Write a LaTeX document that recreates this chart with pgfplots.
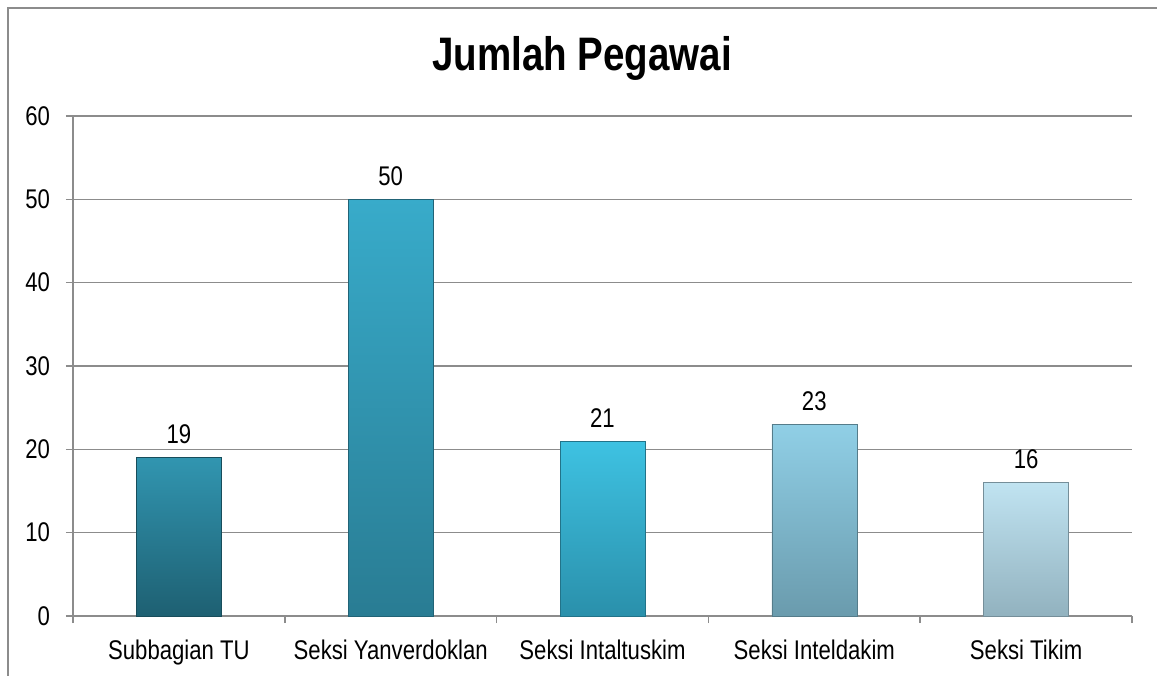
\documentclass[border=0pt]{standalone}
\usepackage{pgfplots}
\pgfplotsset{compat=1.18}
\usepackage{fontspec}
\setmainfont{Liberation Sans}[FakeStretch=0.82]
\definecolor{gridc}{HTML}{8C8C8C}
\definecolor{aT}{HTML}{3195B0}\definecolor{aB}{HTML}{1E6072}
\definecolor{bT}{HTML}{38ABCA}\definecolor{bB}{HTML}{297C93}
\definecolor{cT}{HTML}{3EC2E2}\definecolor{cB}{HTML}{2A90AB}
\definecolor{dT}{HTML}{90CFE6}\definecolor{dB}{HTML}{6A9BAD}
\definecolor{eT}{HTML}{C0E3F1}\definecolor{eB}{HTML}{92B2BF}
\begin{document}
\begin{tikzpicture}
\path[use as bounding box] (0,0) rectangle (578.5pt,337.5pt);
\draw[gridc, line width=0.8pt] (4pt,-2pt) -- (4pt,333.5pt) -- (581pt,333.5pt);
\node[anchor=base, font=\bfseries\fontsize{23.5}{28}\selectfont] at (291pt,302pt) {Jumlah Pegawai};
\begin{axis}[
  at={(36.5pt,29.5pt)}, anchor=south west,
  scale only axis, width=529.5pt, height=250pt,
  xmin=-0.5, xmax=4.5, ymin=0, ymax=60,
  axis x line*=bottom, axis y line*=left,
  axis line style={gridc, line width=0.8pt},
  ytick={0,10,...,60},
  ymajorgrids, grid style={gridc, line width=0.8pt},
  tick align=outside,
  major tick length=3.5pt,
  y tick style={gridc, line width=0.8pt},
  x tick style={draw=none},
  xtick={0,1,2,3,4},
  xticklabels={Subbagian TU, Seksi Yanverdoklan, Seksi Intaltuskim, Seksi Inteldakim, Seksi Tikim},
  minor xtick={-0.5,0.5,1.5,2.5,3.5,4.5},
  minor tick length=3.5pt,
  minor x tick style={draw=gridc, line width=0.8pt},
  tick label style={font=\fontsize{13.5}{15}\selectfont, black},
  /pgf/number format/assume math mode=true,
  yticklabel style={xshift=-4.5pt},
  xticklabel style={yshift=-5pt},
  nodes near coords,
  every node near coord/.append style={font=\fontsize{13.5}{15}\selectfont, black, yshift=3.5pt},
  clip=false,
]
\addplot[ybar, bar width=42.5pt, bar shift=0pt, draw=aB!80!black, line width=0.3pt, top color=aT, bottom color=aB] coordinates {(0,19)};
\addplot[ybar, bar width=42.5pt, bar shift=0pt, draw=bB!80!black, line width=0.3pt, top color=bT, bottom color=bB] coordinates {(1,50)};
\addplot[ybar, bar width=42.5pt, bar shift=0pt, draw=cB!80!black, line width=0.3pt, top color=cT, bottom color=cB] coordinates {(2,21)};
\addplot[ybar, bar width=42.5pt, bar shift=0pt, draw=dB!80!black, line width=0.3pt, top color=dT, bottom color=dB] coordinates {(3,23)};
\addplot[ybar, bar width=42.5pt, bar shift=0pt, draw=eB!80!black, line width=0.3pt, top color=eT, bottom color=eB] coordinates {(4,16)};
\end{axis}
\end{tikzpicture}
\end{document}
